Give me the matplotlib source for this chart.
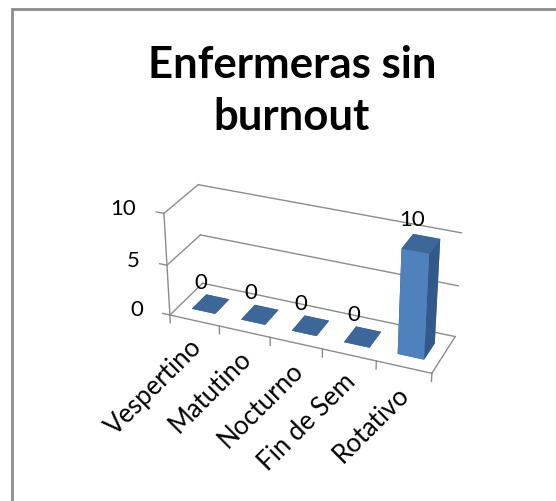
import numpy as np
import matplotlib.pyplot as plt
from matplotlib.patches import Rectangle
from mpl_toolkits.mplot3d import proj3d

# Turnos y número de enfermeras sin burnout
turnos = ["Vespertino", "Matutino", "Nocturno", "Fin de Sem", "Rotativo"]
enfermeras = [0, 0, 0, 0, 10]
ticks_z = [0, 5, 10]

plt.rcParams['font.family'] = ['Lato', 'DejaVu Sans']

fig = plt.figure(figsize=(5.56, 5.02), dpi=100)
fig.patch.set_facecolor('white')

# marco gris del gráfico
fig.patches.append(Rectangle((12 / 556, -0.1), 1.2, 1 - 10 / 502 + 0.1,
                             transform=fig.transFigure, fill=False,
                             edgecolor='#8c8c8c', linewidth=2))

fig.text(0.525, 1 - 91 / 502, "Enfermeras sin\nburnout", ha='center', va='center',
         fontsize=31.5, fontweight='bold', linespacing=1.36)

ax = fig.add_axes([0.1, 0.09, 0.9, 0.7], projection='3d',
                  proj_type='persp', focal_length=0.7)
ax.set_axis_off()
ax.view_init(elev=28.5, azim=-67)
n = len(turnos)
depth = 1.0
ax.set_xlim(0, n)
ax.set_ylim(0, depth)
ax.set_zlim(0, 10)
ax.set_box_aspect((5, 1.3, 2.05), zoom=0.875)

grid_c = '#8c8c8c'
# paredes: líneas de división en la pared del fondo y la lateral
for v in ticks_z:
    ax.plot([0, n], [depth, depth], [v, v], color=grid_c, lw=1)
    ax.plot([0, 0], [0, depth], [v, v], color=grid_c, lw=1)
# eje vertical, eje de categorías y borde derecho del suelo
ax.plot([0, 0], [0, 0], [0, 10], color=grid_c, lw=1)
ax.plot([0, n], [0, 0], [0, 0], color=grid_c, lw=1)
ax.plot([n, n], [0, depth], [0, 0], color=grid_c, lw=1)
for v in ticks_z:
    ax.plot([-0.15, 0], [0, 0], [v, v], color=grid_c, lw=1)
for i in range(n + 1):
    ax.plot([i, i], [0, 0], [0, -0.8], color=grid_c, lw=1)

# columnas
bw, bd = 0.48, 0.45
front = '#4f81bd'
top = '#3d6798'
side = '#33598a'
for i, val in enumerate(enfermeras):
    xc, yc = i + 0.5, depth / 2
    ax.bar3d(xc - bw / 2, yc - bd / 2, 0, bw, bd, val,
             color=[top, top, front, front, side, side], shade=False,
             edgecolor='none')

# textos: se proyectan los puntos 3D y se escriben en píxeles
fig.canvas.draw()


def to_px(x, y, z):
    px, py, _ = proj3d.proj_transform(x, y, z, ax.M)
    return ax.transData.transform((px, py))


for v in ticks_z:
    X, Y = to_px(-0.55, 0, v)
    fig.text(X, Y, str(v), transform=None, ha='right', va='center', fontsize=16)
for i, val in enumerate(enfermeras):
    X, Y = to_px(i + 0.32, depth / 2, val + 2.1)
    fig.text(X, Y, str(val), transform=None, ha='center', va='center', fontsize=16)
    X, Y = to_px(i + 0.38, 0, -1.5)
    fig.text(X, Y, turnos[i], transform=None, ha='right', va='top', rotation=45,
             rotation_mode='anchor', fontsize=18.5)

fig.savefig('out.png', dpi=100)
